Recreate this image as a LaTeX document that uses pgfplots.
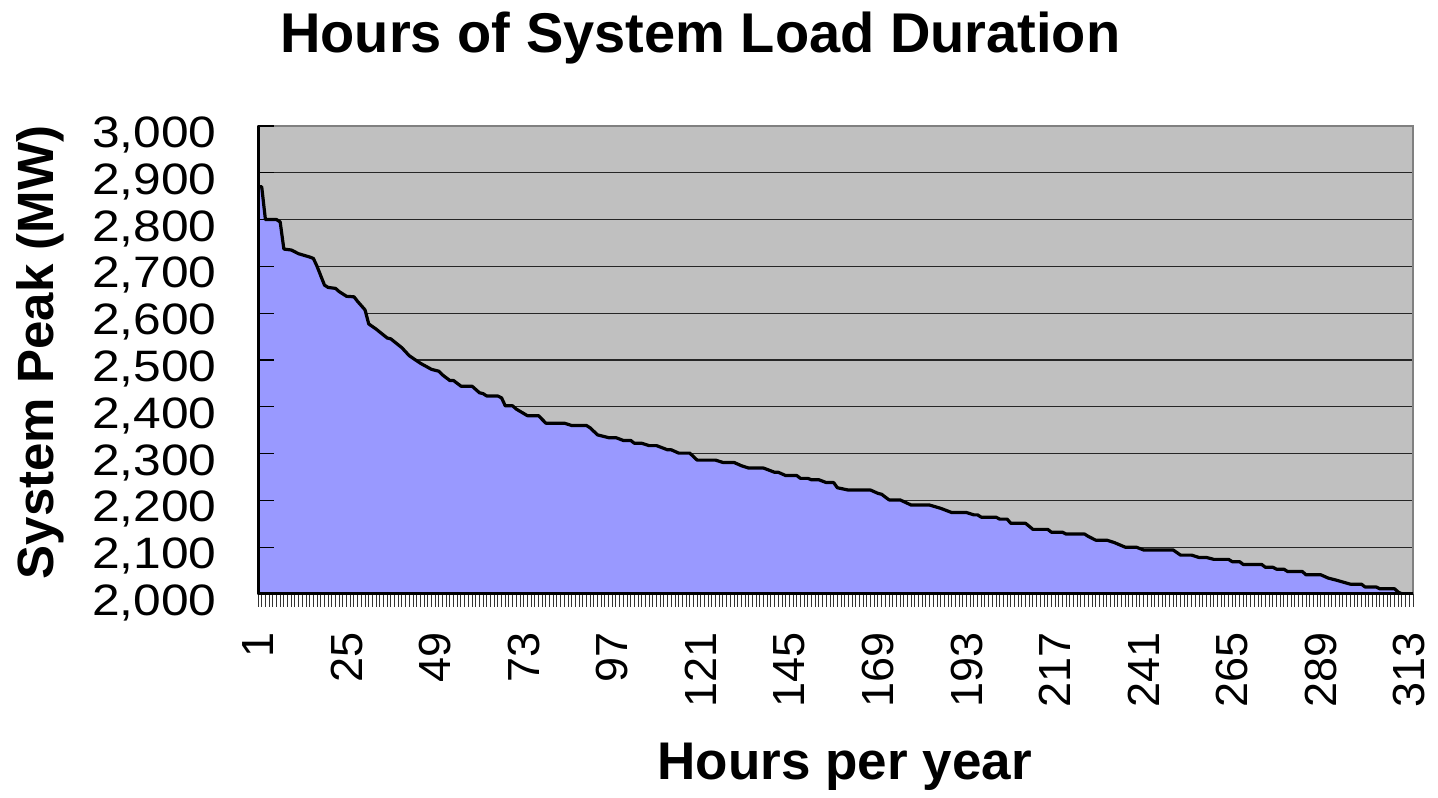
\documentclass[border=0pt]{standalone}
\usepackage{fontspec}
\setmainfont{Liberation Sans}
\newfontfamily\ytfont[FakeStretch=1.13]{Liberation Sans}
\usepackage{pgfplots}
\pgfplotsset{compat=1.18}
\usepackage{pgfplotstable}
\definecolor{bgc}{HTML}{C0C0C0}
\definecolor{areac}{HTML}{9999FF}
\pgfplotstableread{
c v
1 2870
2 2870
3 2800
6 2800
7 2795
8 2737
10 2735
12 2727
15 2720
16 2717
17 2700
19 2660
20 2655
22 2653
23 2646
25 2636
27 2635
28 2625
30 2607
31 2577
33 2566
36 2547
37 2545
40 2526
42 2509
45 2493
48 2480
50 2476
51 2468
53 2456
54 2456
56 2444
59 2444
61 2430
62 2428
63 2423
66 2423
67 2419
68 2402
70 2402
71 2395
74 2381
77 2381
79 2365
84 2365
86 2360
90 2360
91 2355
93 2340
94 2338
96 2334
98 2334
100 2328
102 2328
103 2322
105 2322
107 2317
109 2317
112 2308
113 2308
115 2301
118 2301
120 2286
125 2286
127 2281
130 2281
132 2274
134 2269
138 2269
141 2260
142 2260
144 2253
147 2253
148 2247
150 2247
151 2244
153 2244
155 2238
157 2238
158 2227
161 2222
167 2222
169 2215
170 2213
172 2201
175 2201
178 2190
183 2190
186 2183
189 2174
193 2174
195 2169
196 2169
197 2164
201 2164
202 2160
204 2160
205 2151
209 2151
211 2138
215 2138
216 2132
219 2132
220 2128
225 2128
226 2123
228 2115
231 2115
233 2110
236 2100
239 2100
241 2094
249 2094
251 2083
254 2083
256 2078
258 2078
260 2074
264 2074
265 2069
267 2069
268 2063
273 2063
274 2057
276 2057
277 2053
279 2053
280 2048
284 2048
285 2041
289 2041
291 2034
293 2030
297 2021
300 2021
301 2015
304 2015
305 2011
309 2011
310 2004
311 2000
314 2000
}\loaddata

\begin{document}
\begin{tikzpicture}
\pgfplotsset{common/.style={scale only axis, width=577.5pt, height=234pt,
  xmin=1, xmax=314, ymin=2000, ymax=3000, enlargelimits=false}}
% background, grid, area
\begin{axis}[common,
  axis background/.style={fill=bgc},
  axis line style={draw=gray, line width=1.4pt},
  xtick=\empty, ytick={2000,2100,...,3000}, yticklabels={},
  ymajorgrids, grid style={black!85, line width=0.6pt},
  major tick length=0pt]
\addplot[fill=areac, draw=black, line width=1.6pt, line join=round] table[x=c,y=v]{\loaddata} \closedcycle;
\coordinate (bl) at (rel axis cs:-0.2234,-0.4359);
\coordinate (tr) at (rel axis cs:1.0216,1.2692);
\end{axis}
% y axis, title
\begin{axis}[common, hide x axis, axis y line=left,
  axis line style={-, line width=1.5pt, black},
  ytick={2000,2100,...,3000},
  yticklabels={{2,000},{2,100},{2,200},{2,300},{2,400},{2,500},{2,600},{2,700},{2,800},{2,900},{3,000}},
  tick align=inside, major tick length=8pt, tick style={black, line width=0.6pt},
  yticklabel style={font=\ytfont\fontsize{22}{26}\selectfont, inner sep=0pt, xshift=-20.5pt, yshift=-4.5pt},
  ylabel={System Peak (MW)},
  ylabel style={at={(axis description cs:-0.1775,0.516)}, anchor=base, font=\bfseries\fontsize{25.5}{30}\selectfont},
  title={Hours of System Load Duration},
  title style={at={(axis description cs:0.383,1.132)}, anchor=base, font=\bfseries\fontsize{28}{34}\selectfont}]
\end{axis}
% x axis
\begin{axis}[common, hide y axis, axis x line=bottom,
  axis line style={-, line width=1.5pt, black},
  xtick={1,25,...,313},
  xticklabels={1,25,49,73,97,121,145,169,193,217,241,265,289,313},
  minor xtick={1,...,314},
  tick align=outside, major tick length=6.5pt, minor tick length=6.5pt,
  tick style={black!80, line width=0.5pt},
  xticklabel style={rotate=90, anchor=east, inner sep=0pt, font=\fontsize{22.5}{26}\selectfont},
  xticklabel shift=12.5pt,
  xlabel={Hours per year},
  xlabel style={at={(axis description cs:0.508,-0.397)}, anchor=base, font=\bfseries\fontsize{26.5}{31}\selectfont}]
\end{axis}
\pgfresetboundingbox
\path[use as bounding box] (bl) rectangle (tr);
\end{tikzpicture}
\end{document}
